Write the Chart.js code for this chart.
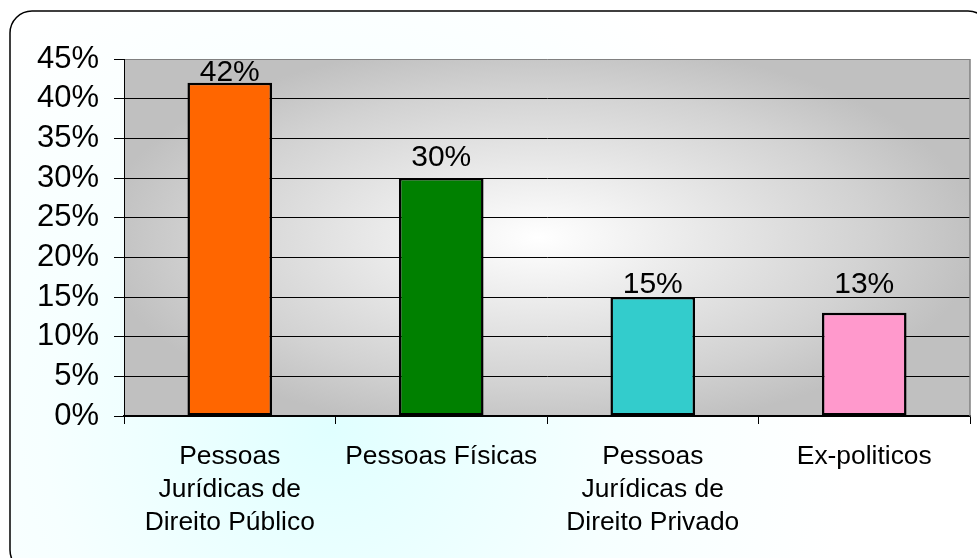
<!DOCTYPE html>
<html>
<head>
<meta charset="utf-8">
<script src="https://cdn.jsdelivr.net/npm/chart.js@4.4.1/dist/chart.umd.min.js"></script>
<style>
  html, body { margin: 0; padding: 0; background: #fff; }
  #wrap { width: 977px; height: 558px; position: relative; }
</style>
</head>
<body>
<div id="wrap"><canvas id="grafico"></canvas></div>
<script>
// Categorias (eixo X)
const categorias = [
  ['Pessoas', 'Jurídicas de', 'Direito Público'],
  'Pessoas Físicas',
  ['Pessoas', 'Jurídicas de', 'Direito Privado'],
  'Ex-politicos'
]

// Valores em %
const valores = [42, 30, 15, 13]

// Eixo Y
const yMin = 0
const yMax = 45
const yPasso = 5

// Cores das barras
const cores = ['#FF6600', '#008000', '#33CCCC', '#FF99CC']

// Distância do rótulo até o topo da barra
const folgaRotulo = [2, 12, 4, 20]

const fonte = "'Liberation Sans', Arial, sans-serif"

// Fundo da moldura e da área do gráfico
const fundoPlugin = {
  id: 'fundo',
  beforeDraw(chart) {
    const ctx = chart.ctx
    const a = chart.chartArea
    ctx.save()

    // Moldura arredondada
    const x0 = 10, y0 = 11, x1 = 990, y1 = 572, r = 22
    const g = ctx.createRadialGradient(330, 430, 0, 330, 430, 520)
    g.addColorStop(0, '#e0ffff')
    g.addColorStop(0.55, '#f6ffff')
    g.addColorStop(1, '#ffffff')
    ctx.beginPath()
    ctx.moveTo(x0 + r, y0)
    ctx.lineTo(x1 - r, y0)
    ctx.arcTo(x1, y0, x1, y0 + r, r)
    ctx.lineTo(x1, y1 - r)
    ctx.arcTo(x1, y1, x1 - r, y1, r)
    ctx.lineTo(x0 + r, y1)
    ctx.arcTo(x0, y1, x0, y1 - r, r)
    ctx.lineTo(x0, y0 + r)
    ctx.arcTo(x0, y0, x0 + r, y0, r)
    ctx.closePath()
    ctx.fillStyle = g
    ctx.fill()
    ctx.lineWidth = 1.5
    ctx.strokeStyle = '#000'
    ctx.stroke()

    // Área do gráfico: cinza nas bordas, claro no centro
    ctx.beginPath()
    ctx.rect(a.left, a.top, a.right - a.left, a.bottom - a.top)
    ctx.clip()
    const cx = a.left + (a.right - a.left) * 0.49
    const cy = a.top + (a.bottom - a.top) * 0.5
    const sy = 0.45
    ctx.translate(cx, cy)
    ctx.scale(1, sy)
    const g2 = ctx.createRadialGradient(0, 0, 0, 0, 0, 440)
    g2.addColorStop(0, '#ffffff')
    g2.addColorStop(0.75, '#d2d2d2')
    g2.addColorStop(1, '#c0c0c0')
    ctx.fillStyle = g2
    ctx.fillRect(-600, -600 / sy, 1200, 1200 / sy)
    ctx.restore()
  },
  afterDraw(chart) {
    // Borda direita cinza
    const ctx = chart.ctx
    const a = chart.chartArea
    ctx.save()
    ctx.strokeStyle = '#808080'
    ctx.lineWidth = 1.5
    ctx.beginPath()
    ctx.moveTo(a.right, a.top)
    ctx.lineTo(a.right, a.bottom)
    ctx.stroke()
    ctx.restore()
  }
}

// Rótulos de valor acima das barras
const rotulosPlugin = {
  id: 'rotulos',
  afterDatasetsDraw(chart) {
    const ctx = chart.ctx
    const meta = chart.getDatasetMeta(0)
    ctx.save()
    ctx.font = `30px ${fonte}`
    ctx.fillStyle = '#000'
    ctx.textAlign = 'center'
    ctx.textBaseline = 'alphabetic'
    meta.data.forEach((bar, i) => {
      ctx.fillText(valores[i] + '%', bar.x, bar.y - folgaRotulo[i])
    })
    ctx.restore()
  }
}

const canvas = document.getElementById('grafico')

new Chart(canvas, {
  type: 'bar',
  data: {
    labels: categorias,
    datasets: [{
      data: valores,
      backgroundColor: cores,
      borderColor: '#000',
      borderWidth: 2.5,
      borderSkipped: false,
      barPercentage: 0.4,
      categoryPercentage: 1.0
    }]
  },
  options: {
    responsive: true,
    maintainAspectRatio: false,
    animation: false,
    layout: {
      padding: { left: 0, top: 59, right: 7, bottom: 0 }
    },
    plugins: {
      legend: { display: false },
      tooltip: { enabled: false }
    },
    scales: {
      x: {
        offset: true,
        afterFit: (scale) => { scale.height = 142 },
        grid: {
          display: true,
          offset: true,
          drawOnChartArea: false,
          drawTicks: true,
          tickLength: 8,
          color: '#000',
          tickColor: '#000'
        },
        border: { display: true, color: '#000', width: 1.5 },
        ticks: {
          color: '#000',
          padding: 16,
          maxRotation: 0,
          autoSkip: false,
          font: { family: fonte, size: 26.4, lineHeight: 1.25 }
        }
      },
      y: {
        min: yMin,
        max: yMax,
        afterFit: (scale) => { scale.width = 124 },
        grid: {
          color: (c) => c.tick && c.tick.value === yMax ? '#808080' : '#000',
          tickColor: '#000',
          tickLength: 10,
          lineWidth: 1
        },
        border: { display: true, color: '#000', width: 1 },
        ticks: {
          stepSize: yPasso,
          autoSkip: false,
          color: '#000',
          padding: 15,
          font: { family: fonte, size: 31 },
          callback: (v) => v + '%'
        }
      }
    }
  },
  plugins: [fundoPlugin, rotulosPlugin]
})
</script>
</body>
</html>
